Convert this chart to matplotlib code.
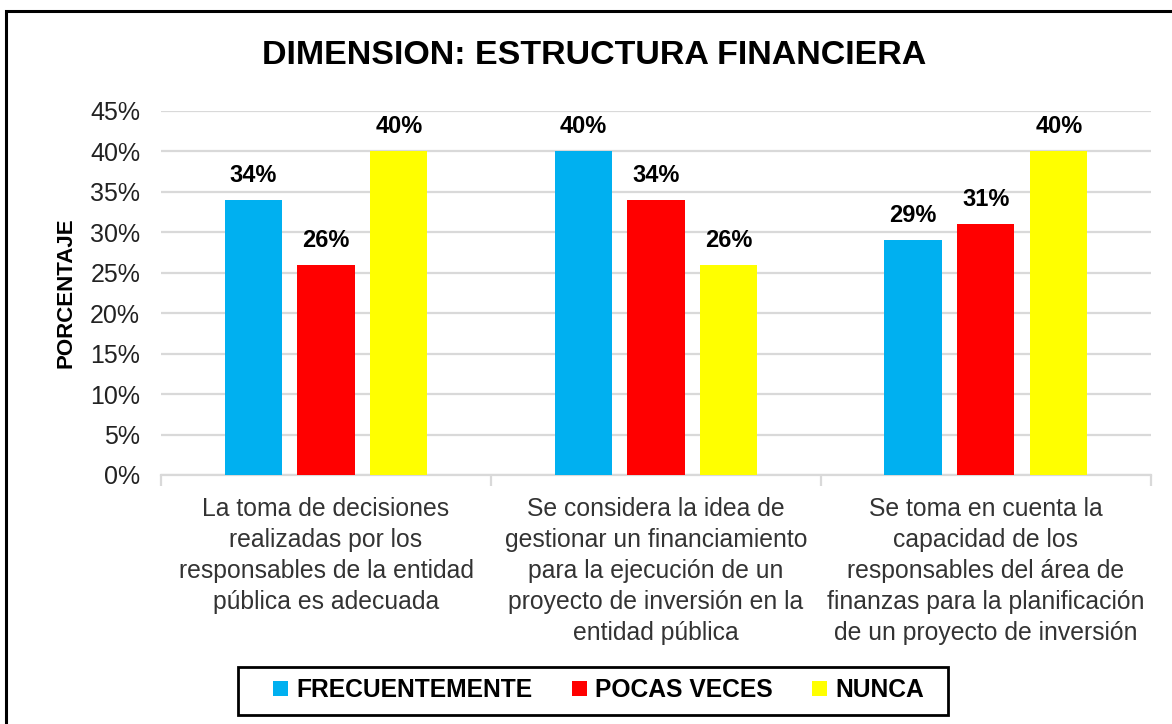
import matplotlib.pyplot as plt
from matplotlib.patches import Rectangle
import numpy as np

plt.rcParams['font.family'] = ['Liberation Sans', 'DejaVu Sans']

categories = [
    'La toma de decisiones\nrealizadas por los\nresponsables de la entidad\npública es adecuada',
    'Se considera la idea de\ngestionar un financiamiento\npara la ejecución de un\nproyecto de inversión en la\nentidad pública',
    'Se toma en cuenta la\ncapacidad de los\nresponsables del área de\nfinanzas para la planificación\nde un proyecto de inversión',
]
series = ['FRECUENTEMENTE', 'POCAS VECES', 'NUNCA']
values = {
    'FRECUENTEMENTE': [34, 40, 29],
    'POCAS VECES': [26, 34, 31],
    'NUNCA': [40, 26, 40],
}
colors = ['#00B0F0', '#FF0000', '#FFFF00']
yticks = [0, 5, 10, 15, 20, 25, 30, 35, 40, 45]

fig = plt.figure(figsize=(11.72, 7.24), dpi=100)
ax = fig.add_axes([0.1374, 0.344, 0.8446, 0.5027])

x = np.arange(len(categories))
width = 0.173
step = 0.221
for i, (name, col) in enumerate(zip(series, colors)):
    vals = values[name]
    pos = x + (i - 1) * step
    ax.bar(pos, vals, width, color=col, label=name, zorder=3)
    for px, v in zip(pos, vals):
        ax.text(px, v + 1.6, f'{v}%', ha='center', va='bottom',
                fontsize=17, fontweight='bold', color='black')

ax.set_xlim(-0.5, 2.5)
ax.set_ylim(0, 45)
ax.set_yticks(yticks)
ax.set_yticklabels([f'{t}%' for t in yticks], fontsize=18, color='#222222')
ax.yaxis.grid(True, color='#d9d9d9', linewidth=1.6, zorder=0)
ax.tick_params(axis='y', length=0, pad=15)

ax.set_xticks(x)
ax.set_xticklabels(categories, fontsize=17.8, color='#333333', linespacing=1.36)
ax.tick_params(axis='x', length=0, pad=16)
# category separators below the axis
ax.set_xticks([-0.5, 0.5, 1.5, 2.5], minor=True)
ax.tick_params(axis='x', which='minor', length=8, width=1.6, color='#d9d9d9')

for s in ['top', 'right', 'left']:
    ax.spines[s].set_visible(False)
ax.spines['bottom'].set_color('#d9d9d9')
ax.spines['bottom'].set_linewidth(1.6)

ax.set_ylabel('PORCENTAJE', fontsize=16, fontweight='bold', labelpad=10)

fig.text(0.507, 0.924, 'DIMENSION: ESTRUCTURA FINANCIERA', ha='center', va='center',
         fontsize=24.5, fontweight='bold')

leg = fig.legend(loc='center', bbox_to_anchor=(0.511, 0.047), ncol=3,
                 prop={'weight': 'bold', 'size': 17.7}, frameon=False,
                 handlelength=0.6, handleheight=0.6, handletextpad=0.35, columnspacing=1.6)

# legend box
fig.patches.append(Rectangle((238 / 1172, 1 - 715 / 724), 710 / 1172, 48 / 724,
                             transform=fig.transFigure, fill=False,
                             edgecolor='black', linewidth=2))
# outer border
fig.patches.append(Rectangle((6 / 1172, -0.1), 1.2, 1.1 - 11 / 724, transform=fig.transFigure,
                             fill=False, edgecolor='black', linewidth=2.2))

fig.savefig('out.png', dpi=100)
